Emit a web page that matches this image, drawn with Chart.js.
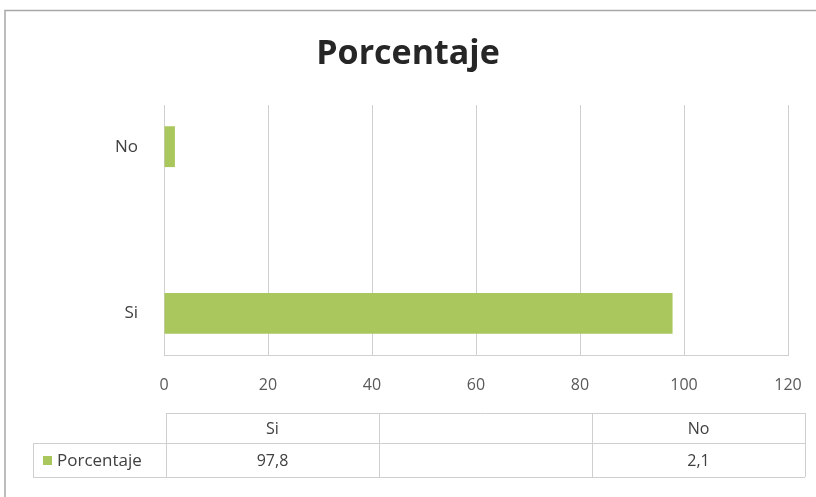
<!DOCTYPE html>
<html>
<head>
<meta charset="utf-8">
<script src="https://cdn.jsdelivr.net/npm/chart.js@4.4.1/dist/chart.umd.min.js"></script>
<style>
  html, body { margin: 0; padding: 0; background: #fff; }
  #wrap { position: relative; width: 816px; height: 497px; }
</style>
</head>
<body>
<div id="wrap"><canvas id="chart"></canvas></div>
<script>
// Chart data (Excel order: first category sits at the bottom)
const categories = ['Si', '', 'No'];
const porcentaje = [97.8, null, 2.1];
const seriesName = 'Porcentaje';
const xTicks = [0, 20, 40, 60, 80, 100, 120];

const barColor = '#a9c75c';
const gridColor = '#d0d0d0';
const textColor = '#404040';

// Frame around the whole chart
const framePlugin = {
    id: 'frame',
    beforeDraw(chart) {
        const ctx = chart.ctx;
        ctx.save();
        ctx.strokeStyle = '#a8a8a8';
        ctx.lineWidth = 1.5;
        ctx.beginPath();
        ctx.moveTo(5, chart.height);
        ctx.lineTo(5, 10.5);
        ctx.lineTo(chart.width, 10.5);
        ctx.stroke();
        ctx.restore();
    }
};

// Data table under the axis, columns follow the category order
const dataTablePlugin = {
    id: 'dataTable',
    afterDraw(chart) {
        const ctx = chart.ctx;
        const area = chart.chartArea;
        const left = area.left + 2;
        const right = area.right + 17;
        const colW = (right - left) / categories.length;
        const legendLeft = 33;
        const top = 413, mid = 443, bottom = 477;

        ctx.save();
        ctx.strokeStyle = '#cfcfcf';
        ctx.lineWidth = 1;
        ctx.beginPath();
        // horizontal lines
        ctx.moveTo(left, top + 0.5); ctx.lineTo(right, top + 0.5);
        ctx.moveTo(legendLeft, mid + 0.5); ctx.lineTo(right, mid + 0.5);
        ctx.moveTo(legendLeft, bottom + 0.5); ctx.lineTo(right, bottom + 0.5);
        // vertical lines
        ctx.moveTo(legendLeft + 0.5, mid); ctx.lineTo(legendLeft + 0.5, bottom);
        for (let i = 0; i <= categories.length; i++) {
            const x = Math.round(left + i * colW) + 0.5;
            ctx.moveTo(x, top); ctx.lineTo(x, bottom);
        }
        ctx.stroke();

        ctx.fillStyle = textColor;
        ctx.font = '16px "Open Sans"';
        ctx.textAlign = 'center';
        ctx.textBaseline = 'middle';
        categories.forEach((c, i) => {
            const cx = left + (i + 0.5) * colW;
            ctx.fillText(c, cx, (top + mid) / 2 + 1);
            const v = porcentaje[i];
            if (v !== null) ctx.fillText(String(v).replace('.', ','), cx, (mid + bottom) / 2 + 1);
        });

        // legend key
        ctx.fillStyle = barColor;
        ctx.fillRect(43, 456, 9, 9);
        ctx.fillStyle = textColor;
        ctx.font = '17px "Open Sans"';
        ctx.textAlign = 'left';
        ctx.fillText(seriesName, 57, (mid + bottom) / 2 + 1);
        ctx.restore();
    }
};

new Chart(document.getElementById('chart'), {
    type: 'bar',
    data: {
        labels: categories,
        datasets: [{
            label: seriesName,
            data: porcentaje,
            backgroundColor: barColor,
            categoryPercentage: 1,
            barPercentage: 0.49
        }]
    },
    options: {
        indexAxis: 'y',
        responsive: true,
        maintainAspectRatio: false,
        animation: false,
        layout: { padding: 0 },
        plugins: {
            legend: { display: false },
            tooltip: { enabled: false },
            title: {
                display: true,
                text: 'Porcentaje',
                color: '#262626',
                font: { family: '"Open Sans"', size: 34, weight: 'bold', lineHeight: 1.2 },
                padding: { top: 34, bottom: 30.2 }
            }
        },
        scales: {
            x: {
                min: 0,
                max: 120,
                afterBuildTicks(scale) { scale.ticks = xTicks.map(v => ({ value: v })); },
                afterFit(scale) {
                    scale.height = 142;
                    scale.paddingLeft = 0;
                    scale.paddingRight = 28;
                },
                grid: { color: gridColor, drawTicks: false },
                border: { color: gridColor },
                ticks: {
                    color: '#595959',
                    padding: 21,
                    font: { family: '"Open Sans"', size: 16 }
                }
            },
            y: {
                reverse: true,
                afterFit(scale) { scale.width = 164; },
                grid: { display: false },
                border: { color: gridColor },
                ticks: {
                    color: textColor,
                    padding: 18,
                    font: { family: '"Open Sans"', size: 17 }
                }
            }
        }
    },
    plugins: [framePlugin, dataTablePlugin]
});
</script>
</body>
</html>
